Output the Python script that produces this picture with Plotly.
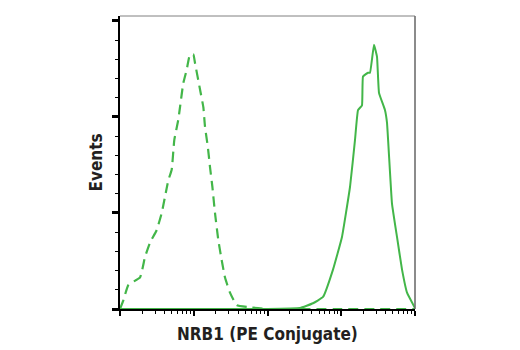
import plotly.graph_objects as go

# Isotype control histogram (dashed) - fluorescence intensity vs. event count
control_x = [10.0, 11.1, 13.0, 18.7, 21.8, 25.5, 31.4, 36.8, 40.8, 45.2, 50.2, 54.5,
             61.7, 65.1, 72.1, 80.2, 89.0, 98.6, 104, 122, 135, 142, 155, 166, 179,
             194, 215, 239, 265, 310, 382, 544, 1000, 10000, 100000]
control_y = [0, 9, 25, 33, 54, 69, 82, 100, 117, 134, 145, 176,
             197, 210, 235, 249, 265, 265, 256, 228, 210, 190, 169, 148, 127,
             100, 72, 51, 33, 17, 4, 2, 0, 0, 0]

# NRB1 (PE Conjugate) stained histogram (solid)
stained_x = [10, 100, 1000, 2760, 4140, 5660, 7730, 10230, 13140, 15360, 16870, 19100,
             19720, 23060, 24530, 27800, 30540, 32500, 39200, 41700, 48700,
             57000, 66700, 78000, 100000]
stained_y = [0, 0, 0, 1, 6, 12.5, 41, 75, 127, 176, 207, 212,
             242, 246, 246, 275, 262.5, 225, 207, 194, 110,
             75, 41, 17, 1]

GREEN = "#43b649"
INK = "#231f20"
FONT = "DejaVu Sans Condensed, Liberation Sans Narrow, sans-serif"

fig = go.Figure()
fig.add_trace(go.Scatter(x=control_x, y=control_y, mode="lines",
                         line=dict(color=GREEN, width=2.2, dash="10px,6px",
                                   shape="spline", smoothing=0.4),
                         hoverinfo="skip"))
fig.add_trace(go.Scatter(x=stained_x, y=stained_y, mode="lines",
                         line=dict(color=GREEN, width=2, shape="spline", smoothing=0.3),
                         hoverinfo="skip"))

# minor ticks at 2..9 within each decade
minor_x = [m * 10 ** d for d in range(1, 5) for m in range(2, 10)]

fig.update_xaxes(type="log", range=[1, 5], showgrid=False, zeroline=False,
                 showline=True, linecolor="black", linewidth=1.5,
                 ticks="outside", tickmode="array",
                 tickvals=[10 ** d for d in range(1, 6)],
                 ticklen=5, tickwidth=2, tickcolor="black",
                 showticklabels=False,
                 minor=dict(ticks="outside", tickmode="array", tickvals=minor_x,
                            ticklen=3, tickwidth=1, tickcolor="black", showgrid=False))
fig.update_yaxes(range=[0, 305], showgrid=False, zeroline=False,
                 showline=True, linecolor="black", linewidth=1.5,
                 ticks="outside", tick0=0, dtick=100, ticklen=6, tickwidth=2.5,
                 tickcolor="black", showticklabels=False,
                 minor=dict(ticks="outside", dtick=20, ticklen=3, tickwidth=1,
                            tickcolor="black", showgrid=False))

# lighter frame on the top and right sides
fig.add_shape(type="line", xref="paper", yref="paper", x0=0, x1=1, y0=1, y1=1,
              line=dict(color="#808080", width=1))
fig.add_shape(type="line", xref="paper", yref="paper", x0=1, x1=1, y0=0, y1=1,
              line=dict(color="#6e6e6e", width=1.6))

fig.add_annotation(text="<b>NRB1 (PE Conjugate)</b>", xref="paper", yref="paper",
                   x=0.5, y=-25 / 293, xanchor="center", yanchor="middle",
                   showarrow=False, font=dict(family=FONT, size=17, color=INK))
fig.add_annotation(text="<b>Events</b>", xref="paper", yref="paper",
                   x=-25 / 295, y=0.5, xanchor="center", yanchor="middle",
                   textangle=-90, showarrow=False,
                   font=dict(family=FONT, size=17, color=INK))

fig.update_layout(width=520, height=350, showlegend=False,
                  margin=dict(l=120, r=105, t=16, b=41),
                  paper_bgcolor="white", plot_bgcolor="white")

fig.write_html("out.html")
